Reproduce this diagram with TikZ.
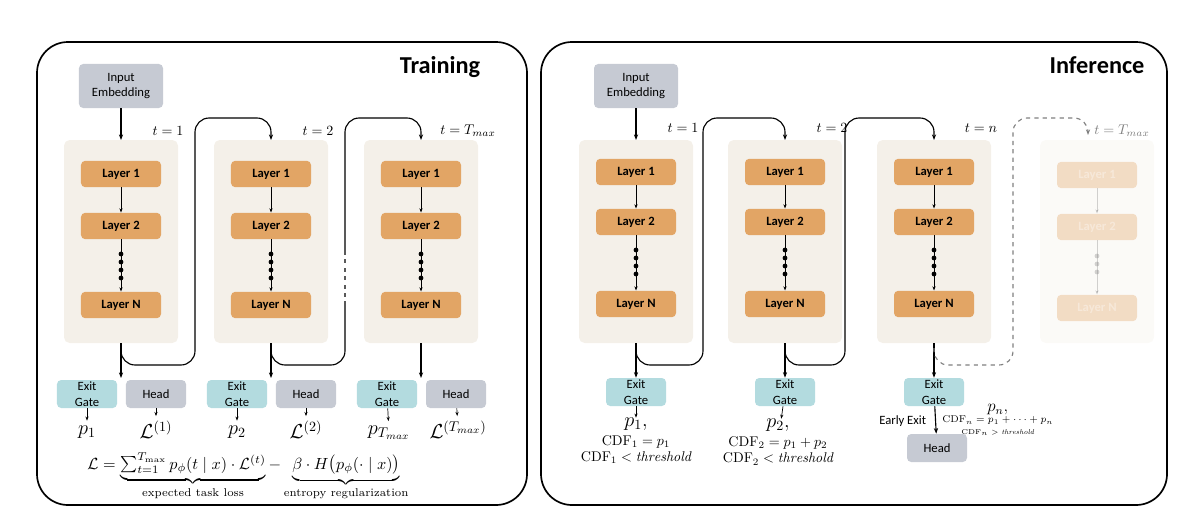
\documentclass[tikz,border=0pt]{standalone}
\usepackage{amsmath}
\usepackage{fontspec}
\setsansfont{Carlito}
\usetikzlibrary{positioning,arrows.meta}

\definecolor{layerfill}{HTML}{E2A565}
\definecolor{colfill}{HTML}{F4F0E9}
\definecolor{gatefill}{HTML}{B3DBDF}
\definecolor{headfill}{HTML}{C6CAD3}

\begin{document}
\begin{tikzpicture}[x=0.025cm,y=-0.025cm,
		panel/.style = {draw, line width=1.2pt, rounded corners=22pt},
		col/.style = {fill=colfill, rounded corners=4pt},
		layer/.style = {fill=layerfill, rounded corners=3pt, minimum width=2cm,
			minimum height=0.66cm, font=\sffamily\bfseries\small},
		gate/.style = {fill=gatefill, rounded corners=3pt, minimum width=1.5cm,
			minimum height=0.7cm, align=center, font=\sffamily\small,
			inner sep=1pt},
		head/.style = {gate, fill=headfill},
		embed/.style = {fill=headfill, rounded corners=3pt, minimum width=2.1cm,
			minimum height=1.1cm, align=center, font=\sffamily\small},
		title/.style = {font=\sffamily\bfseries\LARGE},
		loop/.style = {rounded corners=10pt, line width=0.8pt},
		arr/.style = {-{Stealth[length=4pt]}, line width=0.8pt},
		small/.style = {-{Stealth[length=3pt]}, line width=0.5pt},
		faded/.style = {opacity=0.35}
		]
	\useasboundingbox (0,0) rectangle (1200,526);
	% panels
	\draw[panel] (37,42) rectangle (527,505);
	\draw[panel] (541,42) rectangle (1167,505);
	\node[title] (train) at (440,67) {Training};
	\node[title] (infer) at (1097,65) {Inference};

	% ---------- training ----------
	\node[embed] (embA) at (121,86) {Input\\Embedding};
	\foreach \i/\cx/\tl in {1/121/$t=1$, 2/271/$t=2$, 3/421/$t=T_{max}$} {
		\fill[col] (\cx-57,140) rectangle (\cx+57,343);
		\coordinate (tc\i) at (\cx,140);
		\coordinate (tb\i) at (\cx,343);
		\node[layer] (tl1\i) at (\cx,174) {Layer 1};
		\node[layer] (tl2\i) at (\cx,226) {Layer 2};
		\node[layer] (tln\i) at (\cx,305) {Layer N};
		\node (tt\i) at (\cx+47,131) {\tl};
		\draw[small] (tl1\i) -- (tl2\i);
		\draw[small] (tl2\i) -- (tln\i);
		\foreach \d in {254,262,270,278} \fill (\cx,\d) circle (2.4);
		\node[gate] (tg\i) at (\cx-34,394) {Exit\\Gate};
		\node[head] (th\i) at (\cx+35,394) {Head};
		\draw[arr] (tb\i) -- (\cx,378) coordinate (ta\i);
	}
	\draw[arr] (embA) -- (tc1);
	\draw[arr,loop] (tb1) |- (195,365) |- (271,118) -- (tc2);
	\draw[arr,loop] (tb2) |- (345,365) |- (421,118) -- (tc3);
	\draw[white, line width=1.5pt, dash pattern=on 3pt off 3pt] (345,255) -- (345,305);
	\node[font=\Large] (tp1) at (87,432) {$p_1$};
	\node[font=\Large] (tL1) at (156,430) {$\mathcal{L}^{(1)}$};
	\node[font=\Large] (tp2) at (237,432) {$p_2$};
	\node[font=\Large] (tL2) at (306,430) {$\mathcal{L}^{(2)}$};
	\node[font=\Large] (tp3) at (389,433) {$p_{T_{max}}$};
	\node[font=\Large] (tL3) at (458,430) {$\mathcal{L}^{(T_{max})}$};
	\foreach \i in {1,2,3} {
		\draw[small] (tg\i) -- (tp\i);
		\draw[small] (th\i) -- (tL\i);
	}
	\node[scale=1.15] (loss) at (248,477) {$\mathcal{L}=\underbrace{\textstyle\sum_{t=1}^{T_{\max}} p_\phi(t\mid x)\cdot\mathcal{L}^{(t)}}_{\text{\scriptsize expected task loss}}-\underbrace{\beta\cdot H\bigl(p_\phi(\cdot\mid x)\bigr)}_{\text{\scriptsize entropy regularization}}$};

	% ---------- inference ----------
	\node[embed] (embB) at (636,86) {Input\\Embedding};
	\foreach \i/\cx/\tl in {1/636/$t=1$, 2/785/$t=2$, 3/934/$t=n$} {
		\fill[col] (\cx-57,140) rectangle (\cx+57,343);
		\coordinate (ic\i) at (\cx,140);
		\coordinate (ib\i) at (\cx,343);
		\node[layer] (il1\i) at (\cx,172) {Layer 1};
		\node[layer] (il2\i) at (\cx,222) {Layer 2};
		\node[layer] (iln\i) at (\cx,304) {Layer N};
		\node (it\i) at (\cx+47,128) {\tl};
		\draw[small] (il1\i) -- (il2\i);
		\draw[small] (il2\i) -- (iln\i);
		\foreach \d in {250,258,266,274} \fill (\cx,\d) circle (2.4);
		\node[gate] (ig\i) at (\cx,392) {Exit\\Gate};
		\draw[arr] (ib\i) -- (ig\i);
	}
	% faded last step
	\begin{scope}[faded]
		\fill[col] (1040,140) rectangle (1154,343);
		\coordinate (ic4) at (1097,140);
		\node[layer, text=white] (il14) at (1097,175) {Layer 1};
		\node[layer, text=white] (il24) at (1097,227) {Layer 2};
		\node[layer, text=white] (iln4) at (1097,308) {Layer N};
		\draw[small, gray] (il14) -- (il24);
		\draw[small, gray] (il24) -- (iln4);
		\foreach \d in {256,264,272} \fill[gray] (1097,\d) circle (2.4);
	\end{scope}
	\node[text=gray] (it4) at (1122,131) {$t=T_{max}$};
	\draw[arr] (embB) -- (ic1);
	\draw[arr,loop] (ib1) |- (703,365) |- (785,118) -- (ic2);
	\draw[arr,loop] (ib2) |- (845,365) |- (934,118) -- (ic3);
	\draw[arr,loop,gray,dashed] (934,348) |- (1013,365) |- (1088,118) -- (1088,135);

	\node[align=center, inner sep=0pt] (ip1) at (636,441)
		{\Large$p_1,$\\[1pt]$\mathrm{CDF}_1=p_1$\\$\mathrm{CDF}_1<\mathit{threshold}$};
	\node[align=center, inner sep=0pt] (ip2) at (778,442)
		{\Large$p_2,$\\[1pt]$\mathrm{CDF}_2=p_1+p_2$\\$\mathrm{CDF}_2<\mathit{threshold}$};
	\draw[small] (ig1) -- (ip1);
	\draw[small] (ig2) -- (ip2);
	\node[head] (ihead) at (937,448) {Head};
	\draw[arr] (ig3) -- (ihead);
	\node[font=\sffamily\small, anchor=east] (early) at (931,421) {Early Exit};
	\node[align=center, inner sep=0pt, font=\scriptsize, anchor=west] (ipn) at (942,420)
		{\large$p_n,$\\$\mathrm{CDF}_n=p_1+\cdots+p_n$\\\tiny$\mathrm{CDF}_n>\mathit{threshold}$};
\end{tikzpicture}
\end{document}
